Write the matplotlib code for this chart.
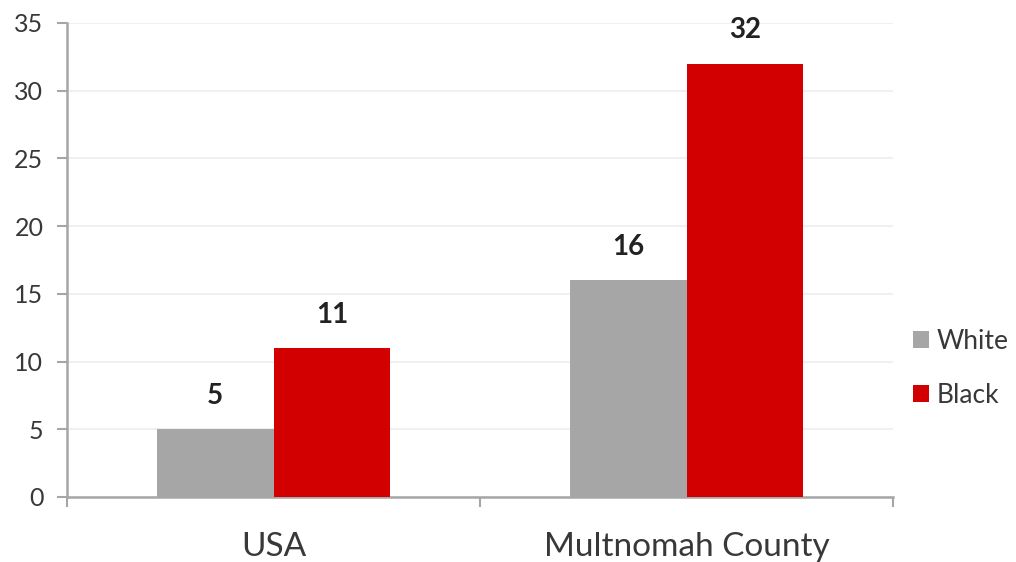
import matplotlib
matplotlib.use("Agg")
import matplotlib.pyplot as plt
import numpy as np

categories = ["USA", "Multnomah County"]
series_names = ["White", "Black"]
white_values = [5, 16]
black_values = [11, 32]
y_ticks = [0, 5, 10, 15, 20, 25, 30, 35]

colors = {"White": "#a6a6a6", "Black": "#d20000"}
axis_color = "#a6a6a6"
text_color = "#383838"

plt.rcParams["font.family"] = ["Lato", "DejaVu Sans"]

fig = plt.figure(figsize=(10.16, 5.62), dpi=100)
ax = fig.add_axes([67 / 1016, 1 - 497 / 562, (893 - 67) / 1016, (497 - 23) / 562])

x = np.arange(len(categories))
width = 0.283
bars_w = ax.bar(x - width / 2, white_values, width, color=colors["White"], label=series_names[0], zorder=3)
bars_b = ax.bar(x + width / 2, black_values, width, color=colors["Black"], label=series_names[1], zorder=3)

for bars, vals in ((bars_w, white_values), (bars_b, black_values)):
    for bar, v in zip(bars, vals):
        ax.annotate(f"{v}", (bar.get_x() + bar.get_width() / 2, v),
                    xytext=(0, 24), textcoords="offset points",
                    ha="center", va="center", fontsize=20, fontweight="bold",
                    color="#222222")

ax.set_xlim(-0.5, len(categories) - 0.5)
ax.set_ylim(0, 35)
ax.set_yticks(y_ticks)
ax.set_yticklabels([str(t) for t in y_ticks], fontsize=18, color=text_color)
ax.yaxis.grid(True, color="#eeeeee", linewidth=1.2, zorder=0)

ax.set_xticks(x)
ax.set_xticklabels(categories, fontsize=24, color=text_color)
ax.tick_params(axis="x", length=0, pad=25)
ax.set_xticks(np.arange(len(categories) + 1) - 0.5, minor=True)
ax.tick_params(axis="x", which="minor", length=7, color=axis_color, width=1.5)
ax.tick_params(axis="y", length=7, color=axis_color, width=1.5, pad=10)

for side in ("top", "right"):
    ax.spines[side].set_visible(False)
for side in ("left", "bottom"):
    ax.spines[side].set_color(axis_color)
    ax.spines[side].set_linewidth(1.8)

leg = ax.legend(loc="center left", bbox_to_anchor=(1.024, 0.272), frameon=False,
                fontsize=19, handlelength=0.6, handleheight=0.6, handletextpad=0.3,
                labelspacing=1.1, borderpad=0, borderaxespad=0,
                labelcolor=text_color)

fig.savefig("out.png", dpi=100, facecolor="white")
